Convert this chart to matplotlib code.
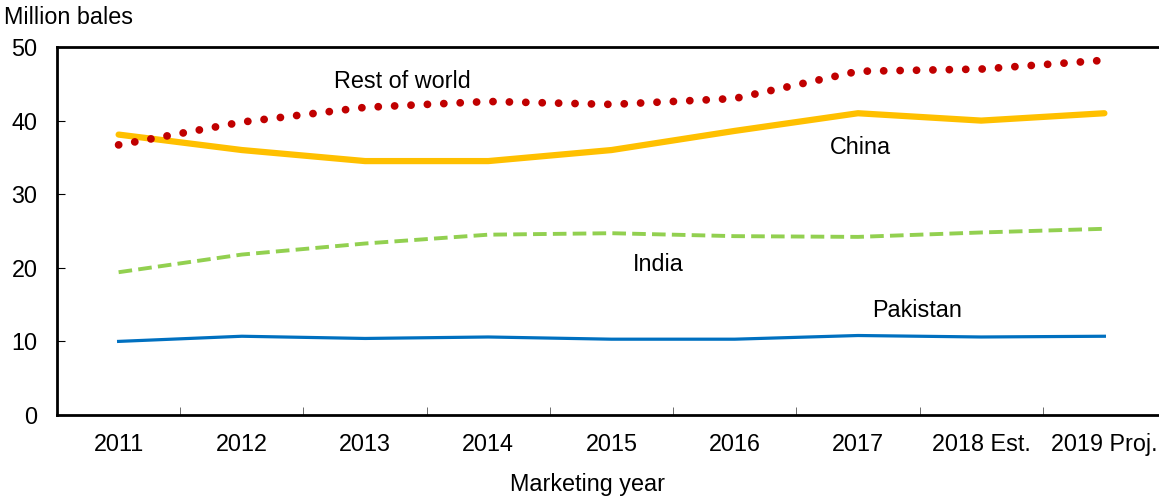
import matplotlib.pyplot as plt

plt.rcParams['font.family'] = ['Liberation Sans', 'DejaVu Sans']

anos = ["2011", "2012", "2013", "2014", "2015", "2016", "2017", "2018 Est.", "2019 Proj."]
resto_mundo = [36.7, 39.8, 41.8, 42.6, 42.2, 43.0, 46.7, 47.0, 48.2]
china = [38.1, 36.0, 34.5, 34.5, 36.0, 38.6, 41.0, 40.0, 41.0]
india = [19.4, 21.8, 23.3, 24.5, 24.7, 24.3, 24.2, 24.8, 25.3]
paquistao = [10.0, 10.7, 10.4, 10.6, 10.3, 10.3, 10.8, 10.6, 10.7]

fs = 16.8

fig = plt.figure(figsize=(11.59, 4.99), dpi=100)
ax = fig.add_axes([57 / 1159, 84 / 499, 1109 / 1159, 368 / 499])

x = range(len(anos))

# Linhas das séries
ax.plot(x, paquistao, color="#0070C0", lw=2.3)
ax.plot(x, india, color="#92D050", lw=2.8, linestyle=(0, (3.5, 1.6)))
ax.plot(x, china, color="#FFC000", lw=4.5, solid_capstyle="round")
ax.plot(x, resto_mundo, color="#C00000", lw=5.6, linestyle=(0, (0.01, 2.1)),
        dash_capstyle="round")

# Rótulos das séries
ax.text(2.3, 45.3, "Rest of world", fontsize=fs, ha="center", va="center")
ax.text(6.02, 36.3, "China", fontsize=fs, ha="center", va="center")
ax.text(4.38, 20.4, "India", fontsize=fs, ha="center", va="center")
ax.text(6.48, 14.2, "Pakistan", fontsize=fs, ha="center", va="center")

ax.set_xlim(-0.5, len(anos) - 0.5)
ax.set_ylim(0, 50)
ax.set_yticks([0, 10, 20, 30, 40, 50])
ax.set_xticks(list(x))
ax.set_xticklabels(anos, fontsize=fs)
ax.set_xticks([i + 0.5 for i in range(len(anos) - 1)], minor=True)
ax.tick_params(axis="x", which="major", length=0, pad=13)
ax.tick_params(axis="x", which="minor", direction="in", length=6, color="#555555")
ax.tick_params(axis="y", direction="in", length=6, labelsize=fs, pad=14)

for lado in ["left", "bottom", "top"]:
    ax.spines[lado].set_linewidth(2)
ax.spines["right"].set_visible(False)

fig.text(588 / 1159, 1 - 484 / 499, "Marketing year", fontsize=fs, ha="center", va="center")
fig.text(4 / 1159, 1 - 17 / 499, "Million bales", fontsize=fs, va="center")

fig.savefig("out.png", dpi=100)
